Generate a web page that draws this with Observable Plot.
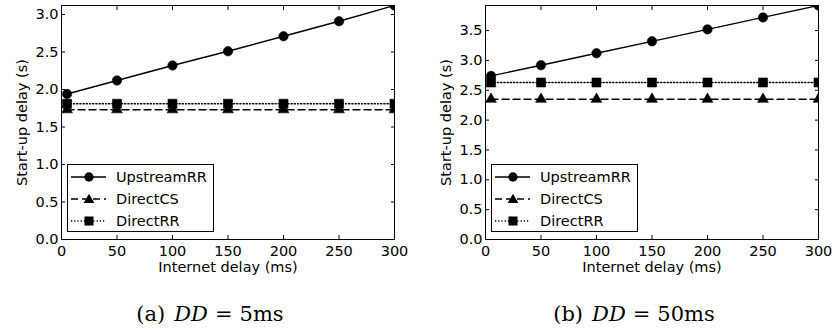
<!DOCTYPE html>
<html><head><meta charset="utf-8">
<script src="https://cdn.jsdelivr.net/npm/d3@7"></script>
<script src="https://cdn.jsdelivr.net/npm/@observablehq/plot@0.6"></script>
<style>
body{margin:0;background:#fff;}
#root{position:relative;width:833px;height:331px;font-family:"DejaVu Sans",sans-serif;background:#fff;overflow:hidden;}
.panel{position:absolute;top:0;}
.caption{position:absolute;top:302px;font-family:"DejaVu Serif",serif;font-size:21px;line-height:24px;transform:translateX(-50%);white-space:nowrap;color:#000;}
.caption i{margin:0 7px 0 9px;}
.caption .eq{margin-right:7px;}
</style></head><body><div id="root"></div>
<script>
// ---- data ----
const internetDelay = [5, 50, 100, 150, 200, 250, 300];
const seriesNames = ["UpstreamRR", "DirectCS", "DirectRR"];
const upstreamRR_DD5 = [1.94, 2.12, 2.32, 2.51, 2.71, 2.91, 3.12];
const directCS_DD5 = [1.73, 1.73, 1.73, 1.73, 1.73, 1.73, 1.73];
const directRR_DD5 = [1.81, 1.81, 1.81, 1.81, 1.81, 1.81, 1.81];
const upstreamRR_DD50 = [2.74, 2.92, 3.12, 3.32, 3.52, 3.72, 3.92];
const directCS_DD50 = [2.35, 2.35, 2.35, 2.35, 2.35, 2.35, 2.35];
const directRR_DD50 = [2.63, 2.63, 2.63, 2.63, 2.63, 2.63, 2.63];
const xTicks = [0, 50, 100, 150, 200, 250, 300];
const yTicksA = [0, 0.5, 1.0, 1.5, 2.0, 2.5, 3.0];
const yTicksB = [0, 0.5, 1.0, 1.5, 2.0, 2.5, 3.0, 3.5];
const xLabel = "Internet delay (ms)";
const yLabel = "Start-up delay (s)";
const captionPrefix = ["(a)", "(b)"];
const captionValue = ["5ms", "50ms"];

// ---- styles ----
const styles = [
  {dash: null, symbol: "circle", r: 4.7, d3sym: d3.symbolCircle, size: 68},
  {dash: "7,4", symbol: "triangle", r: 4.0, d3sym: d3.symbolTriangle, size: 50},
  {dash: "1.2,2", symbol: "square", r: 5.1, d3sym: d3.symbolSquare, size: 82}
];
const FS = 14.5;

const root = document.getElementById("root");

function panel({left, width, marginLeft, marginRight, ymax, yTicks, values, caption, captionX}) {
  const marks = [];
  seriesNames.forEach((name, i) => {
    const d = internetDelay.map((x, j) => ({series: name, x, y: values[i][j]}));
    marks.push(Plot.line(d, {x: "x", y: "y", stroke: "black", strokeWidth: 1.4,
      strokeDasharray: styles[i].dash, clip: true}));
    marks.push(Plot.dot(d, {x: "x", y: "y", symbol: styles[i].symbol, r: styles[i].r,
      fill: "black", stroke: "black", strokeWidth: 0.6, clip: true}));
  });
  const blank = () => "";
  marks.push(
    Plot.frame({stroke: "black", strokeWidth: 1}),
    Plot.axisX(xTicks, {anchor: "bottom", tickSize: 0, tickPadding: 6, tickFormat: "d", label: null, fontSize: FS}),
    Plot.axisX(xTicks, {anchor: "bottom", tickSize: 4, dy: -4, tickFormat: blank, label: null}),
    Plot.axisX(xTicks, {anchor: "top", tickSize: 4, dy: 4, tickFormat: blank, label: null}),
    Plot.axisY(yTicks, {anchor: "left", tickSize: 0, tickPadding: 3, tickFormat: d3.format(".1f"), label: null, fontSize: FS}),
    Plot.axisY(yTicks, {anchor: "left", tickSize: 4, dx: 4, tickFormat: blank, label: null}),
    Plot.axisY(yTicks, {anchor: "right", tickSize: 4, dx: -4, tickFormat: blank, label: null}),
    Plot.text([xLabel], {frameAnchor: "bottom", dy: 28, text: d => d, fontSize: FS, fill: "black",
      textAnchor: "middle", lineAnchor: "middle"}),
    Plot.text([yLabel], {frameAnchor: "left", dx: -39, rotate: -90, text: d => d, fontSize: FS, fill: "black",
      textAnchor: "middle", lineAnchor: "middle"})
  );
  const chart = Plot.plot({
    width, height: 280, marginTop: 5, marginBottom: 41, marginLeft, marginRight,
    x: {domain: [0, 300]}, y: {domain: [0, ymax]},
    style: {fontFamily: "DejaVu Sans", fontSize: FS + "px", color: "black", background: "white", overflow: "visible"},
    marks
  });
  const wrap = document.createElement("div");
  wrap.className = "panel";
  wrap.style.left = left + "px";
  wrap.appendChild(chart);
  root.appendChild(wrap);

  // legend
  const lg = d3.create("svg").attr("width", 147).attr("height", 68)
    .style("position", "absolute").style("left", (left + marginLeft + 6) + "px").style("top", "164px")
    .style("font-family", "DejaVu Sans").style("font-size", FS + "px");
  lg.append("rect").attr("x", 0.5).attr("y", 0.5).attr("width", 146).attr("height", 67)
    .attr("fill", "white").attr("stroke", "black");
  seriesNames.forEach((name, i) => {
    const g = lg.append("g").attr("transform", `translate(0,${13 + i * 22})`);
    g.append("line").attr("x1", 4).attr("x2", 39).attr("y1", 0).attr("y2", 0)
      .attr("stroke", "black").attr("stroke-width", 1.4)
      .attr("stroke-dasharray", styles[i].dash);
    g.append("path").attr("d", d3.symbol(styles[i].d3sym, styles[i].size)())
      .attr("transform", i === 1 ? "translate(22,1)" : "translate(22,0)").attr("fill", "black");
    g.append("text").attr("x", 49).attr("dy", "0.35em").attr("fill", "black").text(name);
  });
  root.appendChild(lg.node());

  const cap = document.createElement("div");
  cap.className = "caption";
  cap.style.left = captionX + "px";
  cap.innerHTML = `<span>${caption[0]}</span><i>DD</i><span class="eq">=</span><span>${caption[1]}</span>`;
  root.appendChild(cap);
}

panel({left: 0, width: 416, marginLeft: 61, marginRight: 22, ymax: 3.12, yTicks: yTicksA,
  values: [upstreamRR_DD5, directCS_DD5, directRR_DD5], caption: [captionPrefix[0], captionValue[0]], captionX: 210});
panel({left: 416, width: 417, marginLeft: 69, marginRight: 15, ymax: 3.92, yTicks: yTicksB,
  values: [upstreamRR_DD50, directCS_DD50, directRR_DD50], caption: [captionPrefix[1], captionValue[1]], captionX: 634});
</script></body></html>
